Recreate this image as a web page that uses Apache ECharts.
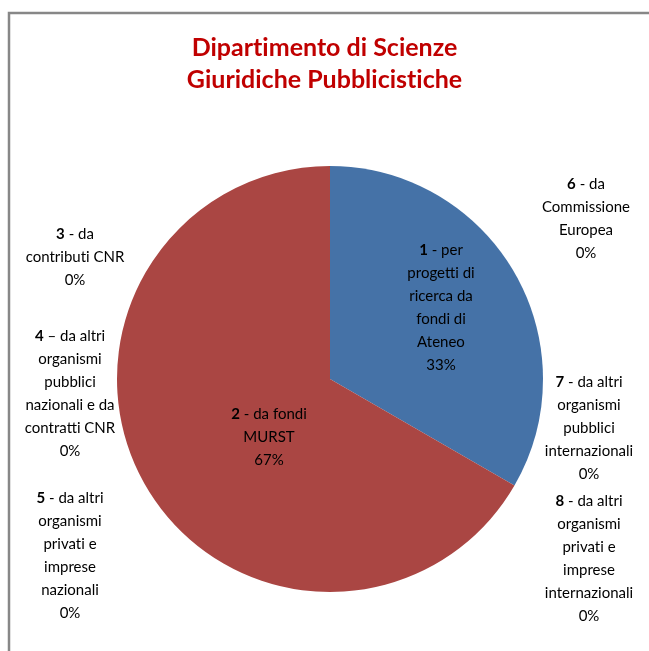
<!DOCTYPE html>
<html>
<head>
<meta charset="utf-8">
<script src="https://cdn.jsdelivr.net/npm/echarts@6/dist/echarts.min.js"></script>
<style>
html,body{margin:0;padding:0;background:#fff;}
#chart{width:649px;height:651px;}
</style>
</head>
<body>
<div id="chart"></div>
<script>
const titleLines = ['Dipartimento di Scienze', 'Giuridiche Pubblicistiche'];
const categories = [
  '1 - per\nprogetti di\nricerca da\nfondi di\nAteneo',
  '2 - da fondi\nMURST',
  '3 - da\ncontributi CNR',
  '4 – da altri\norganismi\npubblici\nnazionali e da\ncontratti CNR',
  '5 - da altri\norganismi\nprivati e\nimprese\nnazionali',
  '6 - da\nCommissione\nEuropea',
  '7 - da altri\norganismi\npubblici\ninternazionali',
  '8 - da altri\norganismi\nprivati e\nimprese\ninternazionali'
];
const values = [1, 2, 0, 0, 0, 0, 0, 0];
const colors = ['#4572A7', '#AA4643', '#89A54E', '#71588F', '#4198AF', '#DB843D', '#93A9CF', '#D19392'];

// label block centres (layout only)
const labelPos = [
  [441, 308], [269, 437], [75, 257], [70, 394], [70, 556],
  [586, 219], [589, 428], [589, 559]
];

// break the font's "ti" ligature so text renders like the original
function noLig(s) { return s.replace(/t(?=i)/g, 't\u200C'); }

const chart = echarts.init(document.getElementById('chart'), null, {renderer: 'canvas'});
const FONT = 'Lato';
chart.setOption({
  animation: false,
  backgroundColor: '#ffffff',
  title: {
    text: noLig(titleLines.join('\n')),
    left: 'center',
    top: 27,
    padding: [5, 5, 5, 16],
    textStyle: {
      color: '#C00000',
      fontFamily: FONT,
      fontWeight: 'bold',
      fontSize: 25,
      lineHeight: 32
    }
  },
  graphic: [{
    type: 'rect',
    shape: {x: 9, y: 13, width: 700, height: 700},
    style: {fill: 'none', stroke: '#878787', lineWidth: 2.5},
    silent: true,
    z: 100
  }],
  series: [{
    type: 'pie',
    center: [330, 379],
    radius: 213,
    startAngle: 90,
    clockwise: true,
    percentPrecision: 0,
    stillShowZeroSum: true,
    avoidLabelOverlap: false,
    data: categories.map((c, i) => ({name: c, value: values[i], itemStyle: {color: colors[i]}})),
    label: {
      show: true,
      position: 'inside',
      color: '#000',
      fontFamily: FONT,
      fontSize: 15,
      lineHeight: 23,
      align: 'center',
      formatter: function (p) {
        const idx = p.name.indexOf(' ');
        const num = p.name.slice(0, idx);
        const rest = noLig(p.name.slice(idx));
        return '{b|' + num + '}{n|' + rest + '\n' + Math.round(p.percent) + '%}';
      },
      rich: {
        b: {fontFamily: FONT, fontSize: 15, lineHeight: 23, fontWeight: 'bold', color: '#000'},
        n: {fontFamily: FONT, fontSize: 15, lineHeight: 23, color: '#000'}
      }
    },
    labelLine: {show: false},
    labelLayout: function (params) {
      const p = labelPos[params.dataIndex];
      return {x: p[0], y: p[1], align: 'center', verticalAlign: 'middle', hideOverlap: false};
    },
    emphasis: {disabled: true},
    itemStyle: {borderWidth: 0}
  }]
});
</script>
</body>
</html>
